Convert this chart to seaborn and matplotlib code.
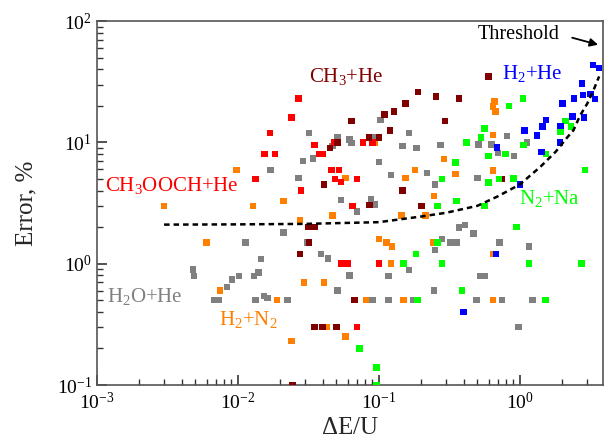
import numpy as np
import pandas as pd
import matplotlib
matplotlib.use('Agg')
import matplotlib.pyplot as plt
import matplotlib.ticker as mticker
import seaborn as sns

# read-off values: (dE/U, error %) per system
ch3oochhe_x = [0.0134, 0.0155, 0.0184, 0.0169, 0.024, 0.027, 0.035, 0.038, 0.040, 0.028, 0.048, 0.046,
               0.052, 0.049, 0.054, 0.054, 0.057, 0.060, 0.065, 0.07, 0.077, 0.09, 0.1, 0.07]
ch3oochhe_y = [5.0, 8, 8, 12, 16, 23, 9.5, 8, 8, 4.0, 10, 5.9,
               5.9, 5.0, 4.7, 1.0, 1.0, 1.0, 3.0, 5.0, 10, 10, 1.0, 0.3]

ch3he_x = [0.0315, 0.035, 0.032, 0.0275, 0.035, 0.040, 0.050, 0.0244, 0.041, 0.045, 0.051, 0.064, 0.085, 0.1,
           0.086, 0.067, 0.11, 0.128, 0.12, 0.155, 0.19, 0.255, 0.37, 0.295, 0.147, 0.2, 0.6, 0.75]
ch3he_y = [2.0, 2.0, 1.5, 1.2, 0.3, 0.3, 0.3, 0.1, 4.5, 9.0, 10, 15, 11, 11,
           3.05, 0.5, 17, 18, 12.5, 21, 26, 24, 23, 15, 4.0, 3.0, 35, 5.0]

h2ohe_x = [0.0048, 0.0049, 0.0068, 0.0073, 0.0084, 0.0091, 0.0102, 0.0113, 0.013, 0.0133, 0.014, 0.0146,
           0.0153, 0.0162, 0.017, 0.021, 0.0225, 0.027, 0.029, 0.031, 0.032, 0.034, 0.039, 0.0435,
           0.047, 0.051, 0.051, 0.054, 0.062, 0.064, 0.062, 0.07, 0.088, 0.094, 0.09, 0.09,
           0.1, 0.103, 0.117, 0.117, 0.122, 0.147, 0.164, 0.164, 0.175, 0.185, 0.22, 0.247,
           0.25, 0.25, 0.274, 0.28, 0.32, 0.355, 0.37, 0.41, 0.47, 0.5, 0.493, 0.51,
           0.52, 0.565, 0.63, 0.70, 0.72, 0.745, 0.81, 0.91, 0.98, 1.12, 1.16, 1.23]
h2ohe_y = [0.9, 0.79, 0.5, 0.5, 0.64, 0.74, 0.79, 1.5, 0.79, 0.5, 0.85, 1.09,
           0.54, 0.52, 5.9, 1.8, 0.5, 5.1, 7.0, 1.5, 12, 7.4, 1.2, 1.1,
           9.3, 11, 0.6, 3.35, 10.6, 9.9, 0.8, 2.7, 3.4, 3.07, 11, 0.5,
           6.9, 15.3, 0.79, 0.5, 5.4, 9.3, 12, 0.89, 0.5, 9, 5.6, 0.6,
           4.5, 1.3, 9.5, 1.6, 1.5, 1.5, 1.98, 2.08, 1.78, 5.1, 0.5, 9.6,
           0.79, 0.79, 9.6, 8.2, 1.5, 0.5, 11.3, 7.7, 0.3, 10, 1.38, 0.5]

h2n2_x = [0.003, 0.006, 0.0075, 0.0098, 0.0128, 0.019, 0.021, 0.024, 0.0275, 0.0295, 0.041, 0.043,
          0.047, 0.058, 0.058, 0.081, 0.093, 0.1, 0.113, 0.122, 0.124, 0.145, 0.15, 0.155,
          0.18, 0.215, 0.243, 0.247, 0.29, 0.35, 0.647, 0.647, 0.647, 0.65, 0.645, 0.66, 0.67]
h2n2_y = [3.0, 1.5, 0.6, 5.9, 3.0, 0.5, 3.3, 0.23, 2.3, 0.7, 0.7, 0.3,
          2.5, 5.1, 0.25, 0.5, 10, 1.6, 1.5, 1.0, 1.38, 2.5, 0.5, 5.1,
          5.9, 2.5, 1.5, 3.6, 7.3, 5.5, 0.5, 5.85, 11.5, 1.2, 19.7, 21.7, 18]

n2na_x = [0.073, 0.096, 0.096, 0.15, 0.183, 0.188, 0.26, 0.26, 0.28, 0.28, 0.35, 0.355,
          0.39, 0.42, 0.53, 0.56, 0.56, 0.6, 0.6, 0.71, 0.79, 0.835, 0.9, 0.95,
          1.05, 1.06, 1.16, 1.52, 1.53, 1.95, 2.1, 2.3, 2.74, 2.9]
n2na_y = [0.2, 0.14, 0.1, 1.0, 1.2, 0.5, 3.0, 1.5, 1.0, 5.0, 6.8, 3.3,
          0.6, 10, 11, 13, 3.0, 7.7, 4.65, 5.0, 8, 20, 5.05, 2.0,
          23, 9.5, 1.0, 0.5, 8, 12.3, 15, 13.5, 1.0, 5.9]

h2he_x = [0.40, 0.68, 0.69, 1.0, 1.08, 1.32, 1.43, 1.45, 1.53, 1.92, 1.95, 2.0,
          2.36, 2.43, 2.77, 2.8, 2.86, 3.17, 3.3, 3.42, 3.65]
h2he_y = [0.4, 1.2, 9.1, 4.5, 12.5, 11.4, 8.3, 13.5, 15.3, 10, 13.6, 21,
          16.3, 23, 30.7, 24.6, 16, 25, 43.5, 22.7, 41]

# threshold curve
thr_x = [0.003, 0.01, 0.03, 0.1, 0.2, 0.3, 0.5, 0.7, 1.0, 1.4, 1.8, 2.14, 2.4, 2.67, 3.0, 3.31, 3.65]
thr_y = [2.1, 2.11, 2.13, 2.2, 2.45, 2.63, 3.0, 3.6, 4.5, 6.3, 8.4, 10.8, 12.6, 16.6, 20.8, 26.5, 35]

colors = {
    'H2O+He': '#808080',
    'H2+N2': '#ff8000',
    'CH3OOCH+He': '#ff0000',
    'CH3+He': '#800000',
    'N2+Na': '#00ff00',
    'H2+He': '#0000ff',
}

frames = [
    pd.DataFrame({'dE': h2ohe_x, 'err': h2ohe_y, 'system': 'H2O+He'}),
    pd.DataFrame({'dE': h2n2_x, 'err': h2n2_y, 'system': 'H2+N2'}),
    pd.DataFrame({'dE': ch3oochhe_x, 'err': ch3oochhe_y, 'system': 'CH3OOCH+He'}),
    pd.DataFrame({'dE': ch3he_x, 'err': ch3he_y, 'system': 'CH3+He'}),
    pd.DataFrame({'dE': n2na_x, 'err': n2na_y, 'system': 'N2+Na'}),
    pd.DataFrame({'dE': h2he_x, 'err': h2he_y, 'system': 'H2+He'}),
]
df = pd.concat(frames, ignore_index=True)

sns.set_style('ticks')
plt.rcParams['font.family'] = ['Liberation Serif', 'DejaVu Serif']
plt.rcParams['mathtext.fontset'] = 'custom'
plt.rcParams['mathtext.rm'] = 'Liberation Serif'
plt.rcParams['mathtext.it'] = 'Liberation Serif:italic'
plt.rcParams['mathtext.default'] = 'regular'

fig = plt.figure(figsize=(6.05, 4.4), dpi=100)
ax = fig.add_axes([0.160, 0.125, 0.837, 0.827])

sns.scatterplot(data=df, x='dE', y='err', hue='system', palette=colors, marker='s',
                s=22, linewidth=0, legend=False, ax=ax, zorder=3)
ax.plot(thr_x, thr_y, color='black', lw=1.8, linestyle=(0, (2.2, 1.6)), zorder=4)

ax.set_xscale('log')
ax.set_yscale('log')
ax.set_xlim(1e-3, 3.9)
ax.set_ylim(0.1, 100)

ax.xaxis.set_major_locator(mticker.LogLocator(base=10))
ax.yaxis.set_major_locator(mticker.LogLocator(base=10))
ax.xaxis.set_minor_locator(mticker.LogLocator(base=10, subs=np.arange(2, 10)))
ax.yaxis.set_minor_locator(mticker.LogLocator(base=10, subs=np.arange(2, 10)))
ax.xaxis.set_minor_formatter(mticker.NullFormatter())
ax.yaxis.set_minor_formatter(mticker.NullFormatter())

ax.tick_params(which='both', direction='in', top=False, right=False, colors='#333333',
               labelcolor='black', labelsize=14)
ax.tick_params(which='major', length=7, width=1.2)
ax.tick_params(which='minor', length=4, width=1.0)
ax.tick_params(axis='x', pad=5)
for sp in ax.spines.values():
    sp.set_color('#555555')
    sp.set_linewidth(1.2)

ax.set_xlabel(r'$\Delta$E/U', fontsize=18, labelpad=3)
ax.set_ylabel('Error, %', fontsize=18, labelpad=14)

lab = dict(fontsize=15, ha='center', va='center')
ax.text(0.059, 35, 'CH$_3$+He', color=colors['CH3+He'], **lab)
ax.text(1.22, 37, 'H$_2$+He', color=colors['H2+He'], **lab)
ax.text(0.0034, 4.45, 'CH$_3$OOCH+He', color=colors['CH3OOCH+He'], **lab)
ax.text(0.0022, 0.535, 'H$_2$O+He', color=colors['H2O+He'], **lab)
ax.text(0.0119, 0.344, 'H$_2$+N$_2$', color=colors['H2+N2'], **lab)
ax.text(1.63, 3.48, 'N$_2$+Na', color=colors['N2+Na'], **lab)
ax.text(0.98, 77, 'Threshold', color='black', fontsize=14.5, ha='center', va='center')
ax.annotate('', xy=(3.75, 63), xytext=(2.25, 74),
            arrowprops=dict(arrowstyle='-|>', color='black', lw=1.3, mutation_scale=12))

fig.savefig('out.png', dpi=100)
